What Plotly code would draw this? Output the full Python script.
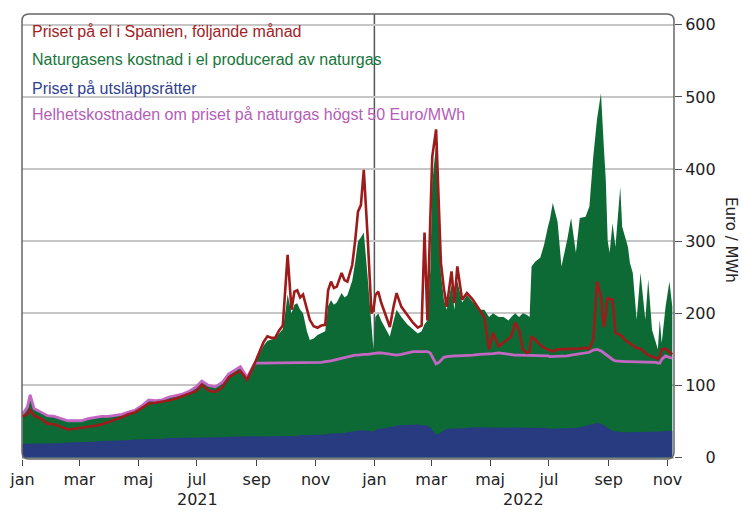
import plotly.graph_objects as go

# ---- data ----
dates = [
    "2021-01-01","2021-01-06","2021-01-09","2021-01-13","2021-01-20","2021-01-27","2021-02-03","2021-02-10",
    "2021-02-17","2021-02-24","2021-03-03","2021-03-10","2021-03-17","2021-03-24","2021-03-31","2021-04-07",
    "2021-04-14","2021-04-21","2021-04-28","2021-05-05","2021-05-12","2021-05-19","2021-05-26","2021-06-02",
    "2021-06-09","2021-06-16","2021-06-23","2021-06-30","2021-07-06","2021-07-13","2021-07-20","2021-07-27",
    "2021-08-03","2021-08-10","2021-08-15","2021-08-22","2021-08-30","2021-09-04","2021-09-08","2021-09-12",
    "2021-09-16","2021-09-20","2021-09-24","2021-09-28","2021-10-01","2021-10-03","2021-10-07","2021-10-10",
    "2021-10-13","2021-10-16","2021-10-19","2021-10-23","2021-10-26","2021-10-30","2021-11-03","2021-11-07",
    "2021-11-11","2021-11-14","2021-11-17","2021-11-20","2021-11-23","2021-11-28","2021-12-01","2021-12-04",
    "2021-12-09","2021-12-12","2021-12-15","2021-12-18","2021-12-21","2021-12-25","2021-12-29","2021-12-31",
    "2022-01-02","2022-01-05","2022-01-08","2022-01-12","2022-01-17","2022-01-21","2022-01-24","2022-01-29",
    "2022-02-04","2022-02-10","2022-02-15","2022-02-19","2022-02-22","2022-02-25","2022-02-28","2022-03-02",
    "2022-03-06","2022-03-09","2022-03-11","2022-03-14","2022-03-17","2022-03-22","2022-03-25","2022-03-28",
    "2022-04-02","2022-04-07","2022-04-13","2022-04-20","2022-04-25","2022-04-30","2022-05-04","2022-05-10",
    "2022-05-15","2022-05-20","2022-05-23","2022-05-27","2022-05-31","2022-06-04","2022-06-08","2022-06-11",
    "2022-06-13","2022-06-17","2022-06-22","2022-06-26","2022-06-30","2022-07-02","2022-07-05","2022-07-10",
    "2022-07-14","2022-07-20","2022-07-24","2022-07-29","2022-08-02","2022-08-08","2022-08-12","2022-08-16",
    "2022-08-20","2022-08-24","2022-08-27","2022-08-29","2022-08-31","2022-09-02","2022-09-05","2022-09-08",
    "2022-09-13","2022-09-15","2022-09-18","2022-09-21","2022-09-23","2022-09-26","2022-09-30","2022-10-04",
    "2022-10-09","2022-10-12","2022-10-16","2022-10-20","2022-10-22","2022-10-24","2022-10-26","2022-10-30",
    "2022-11-03","2022-11-06",
]

# Priset på utsläppsrätter (Euro/MWh)
utslapp = [
    19,19,19,19,19,20,20,20, 21,21,22,22,22,23,23,24, 24,24,25,25,26,26,26,27,
    27,27,28,28,28,28,28,28, 29,29,29,29,30,30,30,30, 30,30,30,30,30,30,30,30,
    30,31,31,31,31,31,32,32, 32,33,33,33,33,34,34,35, 36,37,38,38,38,37,36,36,
    38,40,40,41,42,43,44,45, 45,46,46,45,45,44,42,38, 32,33,35,38,40,40,40,40,
    41,41,42,42,42,42,42,42, 42,42,42,41,41,41,41,41, 41,41,41,41,41,40,40,40,
    40,40,41,41,42,44,45,47, 48,47,45,43,41,39,37,36, 35,35,35,35,35,35,35,35,
    35,35,35,35,35,35,36,37, 37,37,
]

# Naturgasens kostnad i el producerad av naturgas (top of green area, incl. utsläppsrätter)
naturgas = [
    60,68,80,68,63,58,57,54, 51,51,51,54,56,57,57,58, 60,63,66,72,80,79,80,84,
    86,88,92,98,106,100,98,104, 116,122,126,111,131,145,155,162, 163,165,172,178,205,226,200,212,
    214,205,200,175,163,165,170,172, 175,210,218,212,215,228,222,225, 245,270,300,305,312,250,190,150,
    195,200,190,180,168,190,205,195, 185,178,172,175,185,190,260,380, 435,330,255,220,205,240,205,245,
    215,225,215,205,205,195,200,195, 195,190,195,200,195,200,198,195, 265,272,277,295,320,330,353,327,
    265,302,332,284,332,334,348,417, 470,505,430,385,300,284,325,292, 375,320,306,292,270,256,191,256,
    191,247,177,159,150,191,159,209, 244,209,
]

# Helhetskostnaden om priset på naturgas högst 50 Euro/MWh
helhet = [
    60,70,87,68,63,58,57,54, 51,51,51,54,56,57,57,58, 60,63,66,72,80,79,80,84,
    86,88,92,98,106,100,98,104, 116,122,126,111,131,131,131,131, 131,132,132,132,132,132,132,132,
    132,132,132,132,132,132,132,132, 133,133,134,135,136,138,139,140, 141,142,142,143,143,143,144,144,
    145,145,145,144,143,142,142,143, 145,147,147,147,147,147,145,140, 130,132,135,139,140,141,141,141,
    141,141,142,143,143,144,144,145, 144,143,142,142,142,142,142,142, 142,142,142,141,141,140,140,140,
    140,141,142,143,144,145,146,149, 150,148,145,142,140,138,136,134, 133,133,133,133,133,133,133,133,
    133,133,133,132,131,131,136,141, 139,138,
]

# Priset på el i Spanien, följande månad
elpris = [
    57,60,66,58,54,47,46,42, 39,40,41,43,44,46,49,52, 56,60,63,69,75,76,77,79,
    82,85,88,92,101,93,91,97, 111,117,120,108,131,148,160,168, 166,166,176,183,240,281,205,230,
    232,222,226,205,191,182,180,183, 184,232,244,235,237,256,246,244, 267,300,341,350,399,306,200,205,
    225,230,215,200,181,210,228,209, 198,187,180,183,312,190,330,417, 455,334,270,235,209,258,214,265,
    219,228,219,205,195,150,173,154, 159,165,168,187,177,150,145,147, 168,163,156,152,150,148,147,150,
    150,151,150,150,151,152,151,163, 244,223,181,200,222,220,219,173, 170,168,163,160,159,155,152,151,
    145,142,140,138,137,140,150,151, 146,143,
]

month_ticks = ["2021-01-01","2021-03-01","2021-05-01","2021-07-01","2021-09-01","2021-11-01",
               "2022-01-01","2022-03-01","2022-05-01","2022-07-01","2022-09-01","2022-11-01"]
month_labels = ["jan","mar","maj","jul","sep","nov","jan","mar","maj","jul","sep","nov"]
y_ticks = [0, 100, 200, 300, 400, 500, 600]
y_labels = ["\u2007\u20070", "100", "200", "300", "400", "500", "600"]
year_labels = [("2021", "2021-07-02"), ("2022", "2022-06-05")]

legend_texts = [
    ("Priset på el i Spanien, följande månad", "#a3211f"),
    ("Naturgasens kostnad i el producerad av naturgas", "#17763a"),
    ("Priset på utsläppsrätter", "#2f3f8f"),
    ("Helhetskostnaden om priset på naturgas högst 50 Euro/MWh", "#b55db8"),
]

GREEN = "#0d6a35"
BLUE = "#283a80"
MAGENTA = "#c467c4"
RED = "#9e1b1b"

fig = go.Figure()
fig.add_trace(go.Scatter(x=dates, y=naturgas, mode="lines", fill="tozeroy",
                         line=dict(width=0, color=GREEN), fillcolor=GREEN, hoverinfo="skip"))
fig.add_trace(go.Scatter(x=dates, y=utslapp, mode="lines", fill="tozeroy",
                         line=dict(width=0, color=BLUE), fillcolor=BLUE, hoverinfo="skip"))
fig.add_trace(go.Scatter(x=dates, y=helhet, mode="lines",
                         line=dict(width=2.8, color=MAGENTA), hoverinfo="skip"))
fig.add_trace(go.Scatter(x=dates, y=elpris, mode="lines",
                         line=dict(width=2.6, color=RED), hoverinfo="skip"))

W, H = 742, 510
ml, mr, mt, mb = 22, 68, 14, 51
pw, ph = W - ml - mr, H - mt - mb

fig.update_layout(
    width=W, height=H, margin=dict(l=ml, r=mr, t=mt, b=mb, autoexpand=False),
    paper_bgcolor="white", plot_bgcolor="white", showlegend=False,
    font=dict(family="DejaVu Sans", size=16, color="#222222"),
    xaxis=dict(type="date", range=["2020-12-31 12:00", "2022-11-07 18:00"],
               tickmode="array", tickvals=month_ticks, ticktext=month_labels,
               ticks="outside", ticklen=6, tickwidth=1.2, tickcolor="#444444",
               showgrid=False, zeroline=False, showline=False, automargin=False,
               tickfont=dict(family="DejaVu Sans", size=16, color="#222222")),
    yaxis=dict(side="right", range=[-2, 615], tickmode="array",
               tickvals=y_ticks, ticktext=y_labels,
               ticks="outside", ticklen=7, tickwidth=1.2, tickcolor="#555555",
               showgrid=True, gridcolor="#c6c6c6", gridwidth=1.5,
               zeroline=False, showline=False, automargin=False,
               tickfont=dict(family="DejaVu Sans", size=16, color="#222222")),
)

# white patches that interrupt gridlines behind legend texts
fig.add_shape(type="rect", xref="paper", yref="y", x0=0, x1=(309 - ml) / pw, y0=588, y1=612,
              fillcolor="white", line=dict(width=0), layer="between")
fig.add_shape(type="rect", xref="paper", yref="y", x0=0, x1=(210 - ml) / pw, y0=488, y1=512,
              fillcolor="white", line=dict(width=0), layer="between")
# year separator
fig.add_shape(type="line", xref="x", yref="paper", x0="2022-01-01", x1="2022-01-01", y0=0, y1=1,
              line=dict(color="#555555", width=1.5), layer="between")
# rounded frame
rx, ry = 7 / pw, 7 / ph
path = (f"M {rx},0 L {1-rx},0 Q 1,0 1,{ry} L 1,{1-ry} Q 1,1 {1-rx},1 "
        f"L {rx},1 Q 0,1 0,{1-ry} L 0,{ry} Q 0,0 {rx},0 Z")
fig.add_shape(type="path", xref="paper", yref="paper", path=path,
              line=dict(color="#666666", width=1.5), layer="above")

# legend texts
row_y = [31, 59, 88, 115]
for (txt, col), yp in zip(legend_texts, row_y):
    fig.add_annotation(text=txt, xref="paper", yref="paper", x=0, xshift=8,
                       y=(H - mb - yp) / ph, xanchor="left", yanchor="middle", showarrow=False,
                       font=dict(family="Liberation Sans", size=16, color=col))

# year labels
for txt, xd in year_labels:
    fig.add_annotation(text=txt, xref="x", yref="paper", x=xd, y=(H - mb - 499) / ph,
                       xanchor="center", yanchor="middle", showarrow=False, borderpad=0,
                       font=dict(family="DejaVu Sans", size=16, color="#222222"))

# axis title (reads top to bottom)
fig.add_annotation(text="Euro / MWh", xref="paper", yref="paper", x=1, xshift=731 - (W - mr),
                   y=(H - mb - 240) / ph, xanchor="center", yanchor="middle", textangle=90,
                   showarrow=False, borderpad=0,
                   font=dict(family="DejaVu Sans", size=15, color="#222222"))

fig.write_html("out.html", config={"displayModeBar": False},
               post_script="document.body.style.margin='0';document.body.style.padding='0';")
